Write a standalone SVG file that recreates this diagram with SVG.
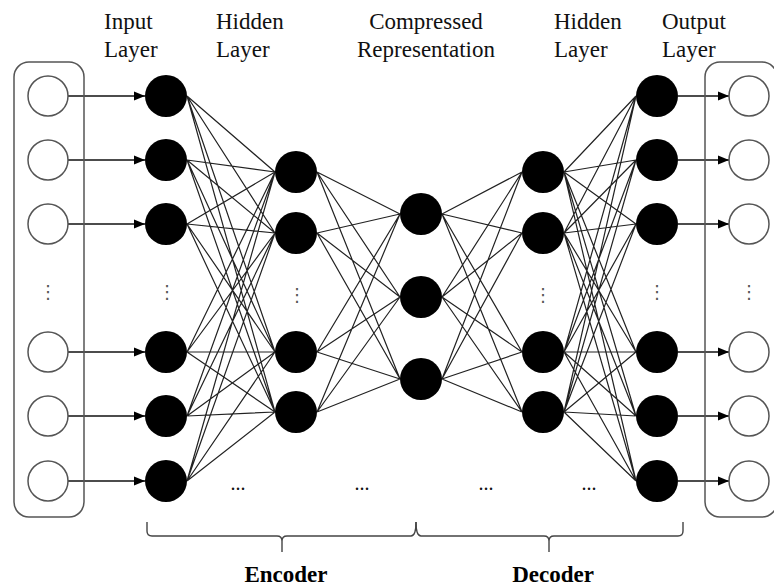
<svg xmlns="http://www.w3.org/2000/svg" width="774" height="588" viewBox="0 0 774 588">
<style>
.lbl{font-family:"Liberation Serif","Times New Roman",serif;font-size:23px;fill:#111}
.big{font-family:"Liberation Serif","Times New Roman",serif;font-size:23px;font-weight:bold;fill:#000}
.vd{font-family:"DejaVu Sans",sans-serif;font-size:18px;fill:#555;text-anchor:middle}
.hd{font-family:"Liberation Serif",serif;font-size:20px;fill:#111;text-anchor:middle}
.box{fill:none;stroke:#555;stroke-width:1.5}
.empty{fill:#fff;stroke:#555;stroke-width:1.5}
.full{fill:#000}
.conn{fill:none;stroke:#222;stroke-width:1.2}
.arr{fill:none;stroke:#111;stroke-width:1.3}
.brace{fill:none;stroke:#444;stroke-width:1.4}
</style>
<defs>
<marker id="ah" markerUnits="userSpaceOnUse" markerWidth="11" markerHeight="10" refX="11" refY="5" orient="auto">
<path d="M0,0.5 L11,5 L0,9.5 z" fill="#000"/>
</marker>
</defs>
<rect fill="#fff" x="0" y="0" width="774" height="588"/>

<g id="labels">
<text class="lbl" x="104" y="29">Input</text>
<text class="lbl" x="104" y="57">Layer</text>
<text class="lbl" x="216" y="29">Hidden</text>
<text class="lbl" x="216" y="57">Layer</text>
<text class="lbl" x="426" y="29" text-anchor="middle">Compressed</text>
<text class="lbl" x="426" y="57" text-anchor="middle">Representation</text>
<text class="lbl" x="554" y="29">Hidden</text>
<text class="lbl" x="554" y="57">Layer</text>
<text class="lbl" x="662" y="29">Output</text>
<text class="lbl" x="662" y="57">Layer</text>
</g>

<g id="connectors">
<path class="conn" d="M187,96L275,172M187,96L275,233M187,96L275,352M187,96L275,412
M187,160L275,172M187,160L275,233M187,160L275,352M187,160L275,412
M187,224L275,172M187,224L275,233M187,224L275,352M187,224L275,412
M187,352L275,172M187,352L275,233M187,352L275,352M187,352L275,412
M187,416L275,172M187,416L275,233M187,416L275,352M187,416L275,412
M187,481L275,172M187,481L275,233M187,481L275,352M187,481L275,412"/>
<path class="conn" d="M317,172L400,214M317,172L400,297M317,172L400,379
M317,233L400,214M317,233L400,297M317,233L400,379
M317,352L400,214M317,352L400,297M317,352L400,379
M317,412L400,214M317,412L400,297M317,412L400,379"/>
<path class="conn" d="M442,214L522,172M442,214L522,233M442,214L522,352M442,214L522,412
M442,297L522,172M442,297L522,233M442,297L522,352M442,297L522,412
M442,379L522,172M442,379L522,233M442,379L522,352M442,379L522,412"/>
<path class="conn" d="M564,172L636,96M564,172L636,160M564,172L636,224M564,172L636,352M564,172L636,416M564,172L636,481
M564,233L636,96M564,233L636,160M564,233L636,224M564,233L636,352M564,233L636,416M564,233L636,481
M564,352L636,96M564,352L636,160M564,352L636,224M564,352L636,352M564,352L636,416M564,352L636,481
M564,412L636,96M564,412L636,160M564,412L636,224M564,412L636,352M564,412L636,416M564,412L636,481"/>
<line class="arr" x1="68" y1="96" x2="145" y2="96" marker-end="url(#ah)"/>
<line class="arr" x1="68" y1="160" x2="145" y2="160" marker-end="url(#ah)"/>
<line class="arr" x1="68" y1="224" x2="145" y2="224" marker-end="url(#ah)"/>
<line class="arr" x1="68" y1="352" x2="145" y2="352" marker-end="url(#ah)"/>
<line class="arr" x1="68" y1="416" x2="145" y2="416" marker-end="url(#ah)"/>
<line class="arr" x1="68" y1="481" x2="145" y2="481" marker-end="url(#ah)"/>
<line class="arr" x1="678" y1="96" x2="729" y2="96" marker-end="url(#ah)"/>
<line class="arr" x1="678" y1="160" x2="729" y2="160" marker-end="url(#ah)"/>
<line class="arr" x1="678" y1="224" x2="729" y2="224" marker-end="url(#ah)"/>
<line class="arr" x1="678" y1="352" x2="729" y2="352" marker-end="url(#ah)"/>
<line class="arr" x1="678" y1="416" x2="729" y2="416" marker-end="url(#ah)"/>
<line class="arr" x1="678" y1="481" x2="729" y2="481" marker-end="url(#ah)"/>
</g>

<g id="input-box">
<rect class="box" x="14" y="62" width="70" height="455" rx="15"/>
<circle class="empty" cx="48" cy="96" r="20"/>
<circle class="empty" cx="48" cy="160" r="20"/>
<circle class="empty" cx="48" cy="224" r="20"/>
<text class="vd" x="48" y="298">⋮</text>
<circle class="empty" cx="48" cy="352" r="20"/>
<circle class="empty" cx="48" cy="416" r="20"/>
<circle class="empty" cx="48" cy="481" r="20"/>
</g>

<g id="input-layer">
<circle class="full" cx="166" cy="96" r="21"/>
<circle class="full" cx="166" cy="160" r="21"/>
<circle class="full" cx="166" cy="224" r="21"/>
<text class="vd" x="167" y="298">⋮</text>
<circle class="full" cx="166" cy="352" r="21"/>
<circle class="full" cx="166" cy="416" r="21"/>
<circle class="full" cx="166" cy="481" r="21"/>
</g>

<g id="hidden-layer-1">
<circle class="full" cx="296" cy="172" r="21"/>
<circle class="full" cx="296" cy="233" r="21"/>
<text class="vd" x="297" y="301">⋮</text>
<circle class="full" cx="296" cy="352" r="21"/>
<circle class="full" cx="296" cy="412" r="21"/>
</g>

<g id="compressed-layer">
<circle class="full" cx="421" cy="214" r="21"/>
<circle class="full" cx="421" cy="297" r="21"/>
<circle class="full" cx="421" cy="379" r="21"/>
</g>

<g id="hidden-layer-2">
<circle class="full" cx="543" cy="172" r="21"/>
<circle class="full" cx="543" cy="233" r="21"/>
<text class="vd" x="543" y="301">⋮</text>
<circle class="full" cx="543" cy="352" r="21"/>
<circle class="full" cx="543" cy="412" r="21"/>
</g>

<g id="output-layer">
<circle class="full" cx="657" cy="96" r="21"/>
<circle class="full" cx="657" cy="160" r="21"/>
<circle class="full" cx="657" cy="224" r="21"/>
<text class="vd" x="657" y="298">⋮</text>
<circle class="full" cx="657" cy="352" r="21"/>
<circle class="full" cx="657" cy="416" r="21"/>
<circle class="full" cx="657" cy="481" r="21"/>
</g>

<g id="output-box">
<rect class="box" x="705" y="62" width="72" height="455" rx="15"/>
<circle class="empty" cx="749" cy="96" r="20"/>
<circle class="empty" cx="749" cy="160" r="20"/>
<circle class="empty" cx="749" cy="224" r="20"/>
<text class="vd" x="749" y="298">⋮</text>
<circle class="empty" cx="749" cy="352" r="20"/>
<circle class="empty" cx="749" cy="416" r="20"/>
<circle class="empty" cx="749" cy="481" r="20"/>
</g>

<g id="ellipses">
<text class="hd" x="238" y="490">...</text>
<text class="hd" x="362" y="490">...</text>
<text class="hd" x="486" y="490">...</text>
<text class="hd" x="589" y="490">...</text>
</g>

<g id="encoder">
<path class="brace" d="M147,522V531Q147,536 152,536H277Q282,536 282,541V552M282,541Q282,536 287,536H411Q416,536 416,522"/>
<text class="big" x="286" y="582" text-anchor="middle">Encoder</text>
</g>
<g id="decoder">
<path class="brace" d="M416,522Q416,536 421,536H544Q549,536 549,541V552M549,541Q549,536 554,536H678Q683,536 683,531V522"/>
<text class="big" x="553" y="582" text-anchor="middle">Decoder</text>
</g>
</svg>
